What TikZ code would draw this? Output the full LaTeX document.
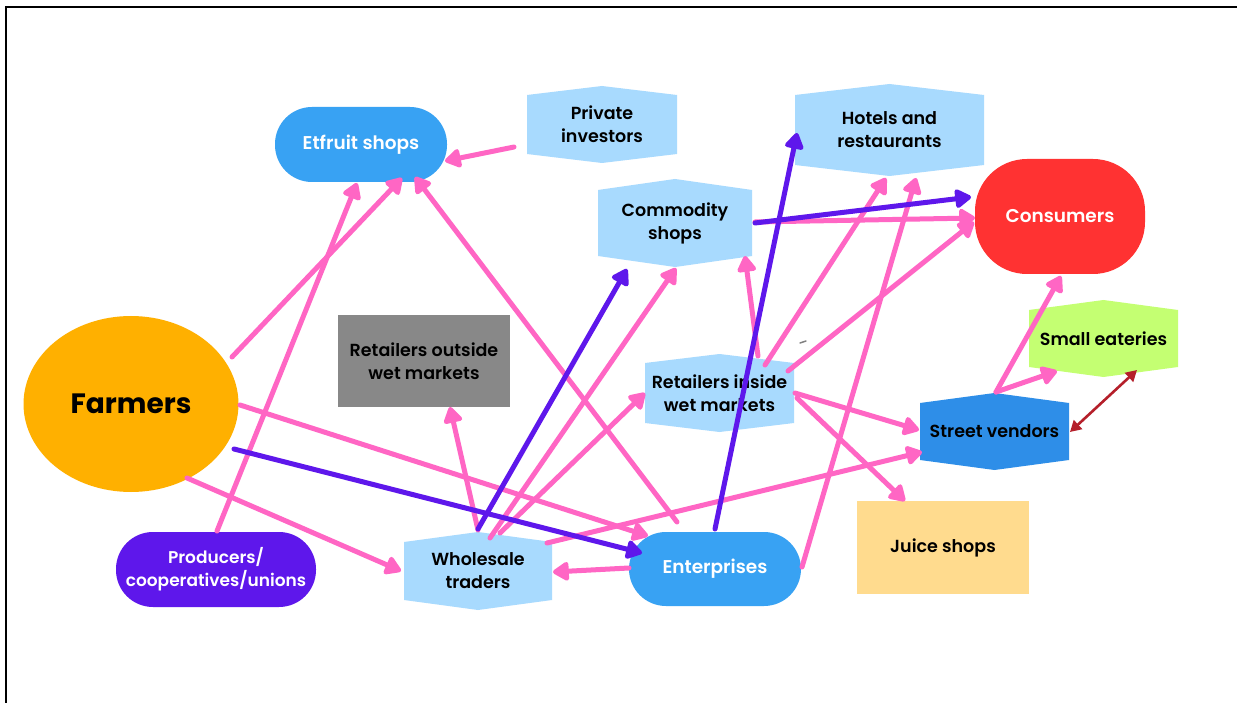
\documentclass[tikz,border=0pt]{standalone}
\usepackage{fontspec}
\setmainfont{Poppins}[UprightFont=* SemiBold, BoldFont=* Bold]
\usetikzlibrary{arrows.meta,calc,backgrounds,shapes.geometric}

\definecolor{flowpink}{HTML}{FF66C4}
\definecolor{flowpurple}{HTML}{5E17EB}
\definecolor{flowred}{HTML}{B51F2A}
\definecolor{paleblue}{HTML}{A8DAFE}
\definecolor{midblue}{HTML}{38A2F3}
\definecolor{deepblue}{HTML}{2E8EE8}
\definecolor{conred}{HTML}{FF3232}
\definecolor{farmorange}{HTML}{FFB000}
\definecolor{boxgray}{HTML}{888888}
\definecolor{limegreen}{HTML}{C4FF72}
\definecolor{juicetan}{HTML}{FFDB8E}

% fills the six-sided banner outline behind a named node
\newcommand\bannerfill[3]{%
  \fill[#2] ($(#1.north west)+(0,#3)$) -- (#1.north) -- ($(#1.north east)+(0,#3)$)
    -- ($(#1.south east)+(0,-#3)$) -- (#1.south) -- ($(#1.south west)+(0,-#3)$) -- cycle;}

\tikzset{
  base/.style={inner sep=0pt, outer sep=0pt, align=center,
    font=\fontsize{17.5}{23}\selectfont},
  pill/.style={base, rectangle, rounded corners=37pt, text=white,
    font=\fontsize{18.5}{23}\selectfont},
  banner/.style={base, rectangle, text=black},
  plain/.style={base, rectangle, text=black},
  pinkflow/.style={draw=flowpink, line width=5pt, line cap=round,
    -{Triangle[length=18pt,width=21pt,round]}},
  purpleflow/.style={draw=flowpurple, line width=5pt, line cap=round,
    -{Triangle[length=18pt,width=21pt,round]}},
  tradeflow/.style={draw=flowred, line width=2.6pt,
    {Triangle[length=11pt,width=12pt]}-{Triangle[length=11pt,width=12pt]}},
}

\begin{document}
\begin{tikzpicture}[x=1pt,y=-1pt]
\useasboundingbox (0,0) rectangle (1237,703);

% ---- nodes ----
\node[pill, fill=midblue, minimum width=172pt, minimum height=75pt] (etf) at (361,144.5) {Etfruit shops};
\node[banner, minimum width=150pt, minimum height=77pt] (priv) at (602,124.5) {Private\\investors};
\node[banner, minimum width=189pt, minimum height=92pt] (hotel) at (889.5,130) {Hotels and\\restaurants};
\node[banner, minimum width=154pt, minimum height=88pt] (comm) at (675,223) {Commodity\\shops};
\node[pill, fill=conred, rounded corners=52pt, minimum width=170pt, minimum height=115pt] (cons) at (1060,216.5) {Consumers};
\node[base, ellipse, fill=farmorange, minimum width=215pt, minimum height=176pt,
  font=\fontsize{28}{32}\selectfont\bfseries] (farm) at (131,404) {Farmers};
\node[plain, fill=boxgray, minimum width=172pt, minimum height=92pt] (rout) at (424,361) {Retailers outside\\wet markets};
\node[banner, minimum width=149pt, minimum height=78pt] (rin) at (719.5,393) {Retailers inside\\wet markets};
\node[banner, minimum width=149pt, minimum height=77pt] (eat) at (1103.5,338.5) {Small eateries};
\node[banner, minimum width=149pt, minimum height=77pt] (sv) at (994.5,431.5) {Street vendors};
\node[plain, fill=juicetan, minimum width=172pt, minimum height=93pt] (juice) at (943,547.5) {Juice shops};
\node[pill, fill=flowpurple, minimum width=200pt, minimum height=75pt,
  font=\fontsize{17}{23}\selectfont] (prod) at (216,569.5) {Producers/\\cooperatives/unions};
\node[banner, minimum width=148pt, minimum height=78pt] (whole) at (478,571) {Wholesale\\traders};
\node[pill, fill=midblue, minimum width=172pt, minimum height=74pt] (ent) at (715,569) {Enterprises};

\begin{scope}[on background layer]
  \fill[white] (0,0) rectangle (1237,703);
  \bannerfill{priv}{paleblue}{9}
  \bannerfill{hotel}{paleblue}{11}
  \bannerfill{comm}{paleblue}{11}
  \bannerfill{rin}{paleblue}{9}
  \bannerfill{eat}{limegreen}{10}
  \bannerfill{sv}{deepblue}{10}
  \bannerfill{whole}{paleblue}{10}
\end{scope}

\draw[line width=2.5pt] (6,703) -- (6,7) -- (1237,7);

% ---- pink flows ----
\draw[pinkflow] ($(farm)+(101,-47)$) -- ($(etf)+(41,33.5)$);
\draw[pinkflow] ($(prod)+(1,-38.5)$) -- ($(etf)+(-4,38.5)$);
\draw[pinkflow] ($(priv)+(-88,22.5)$) -- ($(etf)+(84,16.5)$);
\draw[pinkflow] ($(ent)+(-38,-47)$) -- ($(etf)+(54,32.5)$);
\draw[pinkflow] ($(farm)+(109,1)$) -- ($(ent)+(-67,-33)$);
\draw[pinkflow] ($(farm)+(56,74)$) -- ($(whole)+(-77,0)$);
\draw[pinkflow] ($(whole)+(0,-41)$) -- ($(rout)+(26,46)$);
\draw[pinkflow] ($(whole)+(12,-33)$) -- ($(comm)+(1,45)$);
\draw[pinkflow] ($(whole)+(22,-38)$) -- ($(rin)+(-74.5,0)$);
\draw[pinkflow] ($(whole)+(69,-28)$) -- ($(sv)+(-72.5,20.5)$);
\draw[pinkflow] ($(ent)+(-86,-1)$) -- ($(whole)+(75,1)$);
\draw[pinkflow] ($(ent)+(87,-2)$) -- ($(hotel)+(26.5,48)$);
\draw[pinkflow] ($(rin)+(38.5,-37)$) -- ($(comm)+(70,33)$);
\draw[pinkflow] ($(rin)+(45.5,-28)$) -- ($(hotel)+(-3.5,48)$);
\draw[pinkflow] ($(rin)+(68.5,-22)$) -- ($(cons)+(-86,5.5)$);
\draw[pinkflow] ($(rin)+(75.5,0)$) -- ($(sv)+(-75.5,-1.5)$);
\draw[pinkflow] ($(rin)+(77.5,5)$) -- ($(juice)+(-38,-46.5)$);
\draw[pinkflow] ($(comm)+(80,-1)$) -- ($(cons)+(-85,1.5)$);
\draw[pinkflow] ($(sv)+(1.5,-39.5)$) -- ($(cons)+(1,59.5)$);
\draw[pinkflow] ($(sv)+(1.5,-39.5)$) -- ($(eat)+(-46.5,32.5)$);

% ---- purple flows ----
\draw[purpleflow] ($(farm)+(103,45)$) -- ($(ent)+(-73,-16)$);
\draw[purpleflow] ($(whole)+(0,-42)$) -- ($(comm)+(-48,46)$);
\draw[purpleflow] ($(ent)+(0,-40)$) -- ($(hotel)+(-92.5,3)$);
\draw[purpleflow] ($(comm)+(80,0)$) -- ($(cons)+(-89,-19.5)$);

% ---- two-way link ----
\draw[tradeflow] ($(sv)+(75.5,0.5)$) -- ($(eat)+(33.5,31.5)$);

% small stray stroke
\draw[gray, line width=1.5pt, line cap=round] (800,343) -- (806,341);
\end{tikzpicture}
\end{document}
